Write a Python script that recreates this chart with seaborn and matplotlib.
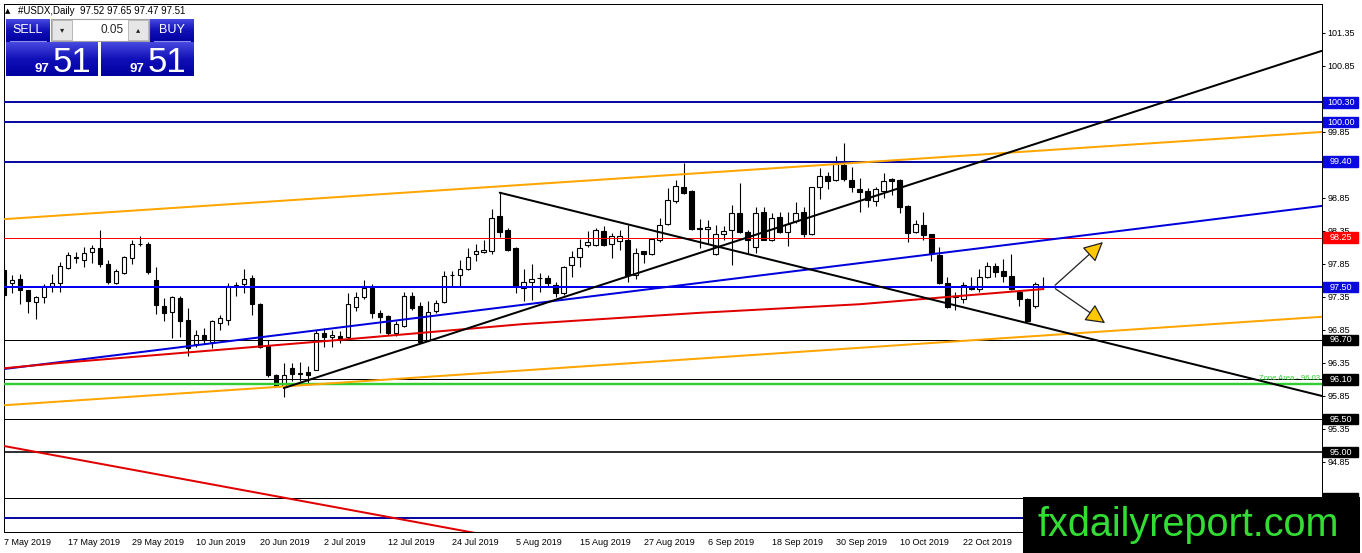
import matplotlib
matplotlib.use("Agg")
import matplotlib.pyplot as plt
import numpy as np
import pandas as pd
import seaborn as sns
from matplotlib.patches import Rectangle
from matplotlib.colors import LinearSegmentedColormap

# USDX daily candles, bar 0 = 7 May 2019
opens = [97.76, 97.56, 97.62, 97.45, 97.28, 97.35, 97.51, 97.56, 97.79, 97.94,
         97.91, 98.03, 98.09, 97.85, 97.56, 97.72, 97.94, 98.16, 98.15, 97.61,
         97.21, 97.12, 97.34, 97.00, 96.64, 96.77, 96.67, 96.96, 97.00, 97.52,
         97.54, 97.63, 97.24, 96.61, 96.17, 96.00, 96.27, 96.19, 96.22, 96.24,
         96.81, 96.74, 96.76, 96.75, 97.20, 97.35, 97.48, 97.11, 97.06, 96.81,
         96.91, 97.36, 97.21, 96.70, 97.13, 97.27, 97.68, 97.68, 97.77, 98.00,
         98.03, 98.05, 98.57, 98.36, 98.09, 97.49, 97.57, 97.64, 97.64, 97.53,
         97.41, 97.84, 97.96, 98.14, 98.14, 98.35, 98.16, 98.20, 98.21, 97.68,
         98.04, 98.00, 98.21, 98.45, 98.80, 99.02, 98.95, 98.40, 98.38, 98.00,
         98.30, 98.37, 98.62, 98.34, 98.10, 98.64, 98.21, 98.56, 98.34, 98.50,
         98.64, 98.30, 99.02, 99.18, 99.12, 99.35, 99.12, 98.99, 98.95, 98.80,
         98.96, 99.13, 99.12, 98.73, 98.34, 98.44, 98.30, 97.99, 97.56, 97.35,
         97.32, 97.51, 97.47, 97.65, 97.82, 97.74, 97.67, 97.43, 97.32, 97.21,
         97.52]
highs = [97.85, 97.68, 97.70, 97.46, 97.36, 97.54, 97.70, 97.88, 98.03, 98.03,
         98.11, 98.14, 98.36, 97.91, 97.78, 97.97, 98.21, 98.27, 98.19, 97.81,
         97.34, 97.36, 97.36, 97.18, 96.85, 96.88, 97.00, 97.08, 97.56, 97.58,
         97.77, 97.68, 97.26, 96.70, 96.19, 96.35, 96.35, 96.37, 96.30, 96.85,
         96.88, 96.85, 96.84, 97.41, 97.43, 97.60, 97.54, 97.15, 97.07, 96.98,
         97.43, 97.42, 97.28, 97.29, 97.30, 97.75, 97.75, 97.91, 98.09, 98.16,
         98.21, 98.68, 98.93, 98.39, 98.11, 97.77, 97.85, 97.72, 97.68, 97.57,
         97.82, 98.05, 98.23, 98.35, 98.39, 98.42, 98.32, 98.36, 98.44, 98.09,
         98.04, 98.25, 98.54, 99.00, 99.12, 99.38, 98.97, 98.53, 98.51, 98.44,
         98.43, 98.74, 99.08, 98.36, 98.72, 98.72, 98.62, 98.64, 98.64, 98.79,
         98.72, 99.02, 99.30, 99.25, 99.48, 99.68, 99.32, 99.16, 99.00, 99.02,
         99.23, 99.15, 99.13, 98.74, 98.52, 98.64, 98.30, 98.10, 97.65, 97.43,
         97.57, 97.66, 97.78, 97.88, 97.87, 97.92, 98.00, 97.45, 97.33, 97.57,
         97.65]
lows = [97.30, 97.41, 97.24, 97.11, 97.02, 97.26, 97.43, 97.43, 97.77, 97.86,
        97.81, 97.87, 97.81, 97.55, 97.55, 97.70, 97.85, 98.12, 97.70, 97.09,
        96.99, 96.73, 96.75, 96.45, 96.59, 96.64, 96.57, 96.85, 96.93, 97.36,
        97.41, 97.08, 96.57, 96.14, 96.00, 95.84, 96.07, 96.07, 96.04, 96.24,
        96.59, 96.59, 96.66, 96.72, 97.13, 97.32, 97.03, 96.80, 96.78, 96.76,
        96.90, 97.16, 96.65, 96.69, 97.11, 97.26, 97.52, 97.52, 97.76, 97.89,
        98.02, 98.00, 98.26, 98.05, 97.41, 97.29, 97.30, 97.43, 97.50, 97.35,
        97.38, 97.66, 97.81, 98.10, 98.12, 98.12, 97.94, 98.06, 97.58, 97.62,
        97.86, 97.98, 98.19, 98.44, 98.77, 98.91, 98.36, 98.09, 98.16, 97.99,
        98.21, 97.83, 98.32, 98.02, 98.02, 98.21, 98.20, 98.32, 98.12, 98.47,
        98.26, 98.29, 98.83, 98.99, 99.10, 99.11, 98.94, 98.64, 98.72, 98.73,
        98.85, 98.90, 98.62, 98.19, 98.32, 98.21, 97.89, 97.55, 97.18, 97.15,
        97.26, 97.46, 97.42, 97.63, 97.66, 97.58, 97.45, 97.21, 96.98, 97.18,
        97.47]
closes = [97.38, 97.61, 97.45, 97.29, 97.35, 97.52, 97.56, 97.82, 97.99, 97.95,
          98.01, 98.09, 97.85, 97.58, 97.74, 97.95, 98.15, 98.15, 97.73, 97.23,
          97.11, 97.35, 96.99, 96.57, 96.77, 96.70, 96.99, 97.03, 97.52, 97.53,
          97.62, 97.24, 96.59, 96.17, 96.00, 96.17, 96.19, 96.19, 96.17, 96.80,
          96.75, 96.77, 96.70, 97.24, 97.35, 97.49, 97.11, 97.05, 96.80, 96.94,
          97.37, 97.19, 96.67, 97.12, 97.26, 97.67, 97.68, 97.77, 97.96, 98.05,
          98.06, 98.54, 98.34, 98.06, 97.51, 97.58, 97.62, 97.64, 97.56, 97.41,
          97.81, 97.96, 98.09, 98.19, 98.36, 98.14, 98.27, 98.27, 97.68, 98.02,
          98.00, 98.23, 98.44, 98.82, 99.03, 98.93, 98.38, 98.38, 98.41, 98.30,
          98.35, 98.62, 98.34, 98.21, 98.62, 98.21, 98.55, 98.34, 98.45, 98.62,
          98.30, 99.01, 99.18, 99.10, 99.36, 99.13, 99.01, 98.94, 98.82, 98.98,
          99.11, 99.11, 98.72, 98.32, 98.45, 98.29, 98.01, 97.56, 97.20, 97.36,
          97.53, 97.47, 97.66, 97.82, 97.73, 97.67, 97.47, 97.32, 96.98, 97.55,
          97.51]

# red moving average curve, sampled along the chart
ma_bars = [0, 7, 22, 43, 65, 87, 107, 130]
ma_values = [96.27, 96.35, 96.50, 96.71, 96.94, 97.11, 97.24, 97.47]

# trendlines as (bars, prices) end points
upper_channel = ([0.09, 164.84], [98.53, 99.85])
lower_channel = ([0.09, 164.84], [95.71, 97.05])
blue_trend = ([0.09, 164.84], [96.26, 98.73])
black_up = ([35, 164.84], [95.97, 101.08])
black_down = ([62, 164.84], [98.93, 95.85])
red_down = ([0.09, 60], [95.09, 93.75])

# horizontal levels
blue_levels = [100.30, 100.00, 99.40, 97.50, 94.00]
black_levels = [96.70, 96.10, 95.50, 95.00, 94.30]
red_level = 98.25
zone_level = 96.03

# price boxes on the scale (the last two sit under the logo, no visible text)
label_prices = [100.30, 100.00, 99.40, 98.25, 97.50, 96.70, 96.10, 95.50, 95.00, 94.30, 94.00]
label_kinds = ["blue", "blue", "blue", "red", "blue", "black", "black", "black", "black", "black", "blue"]
hidden_labels = [94.30, 94.00]

y_ticks = [94.35, 94.85, 95.35, 95.85, 96.35, 96.85, 97.35, 97.85, 98.35, 98.85,
           99.35, 99.85, 100.35, 100.85, 101.35]
covered_ticks = [94.35, 99.35, 100.35]

header = "#USDX,Daily  97.52 97.65 97.47 97.51"
bid_big, bid_small = "51", "97"
lot_size = "0.05"

# signal arrows: start point and two targets
arrow_start = (131.2, 97.50)
arrow_up = (137.7, 98.21)
arrow_down = (138.0, 96.93)

sns.set_style("white")
plt.rcParams["font.family"] = ["Liberation Sans", "DejaVu Sans"]

W, H = 1362, 553
fig = plt.figure(figsize=(W / 100, H / 100), dpi=100)
ax = fig.add_axes([4 / W, 1 - 532 / H, 1318 / W, 528 / H])
ax.set_xlim(0.0875, 164.84)
ax.set_ylim(93.789, 101.789)

navy = "#0a0aa0"
box_blue = "#0a0ae0"
px = 0.72  # one pixel in points

# candles
x = np.arange(len(opens))
o, h, l, c = map(np.array, (opens, highs, lows, closes))
ax.vlines(x, l, h, color="black", lw=0.8, zorder=2)
body_bottom = np.minimum(o, c)
body_height = np.maximum(np.abs(c - o), 0.004)
face = np.where(c >= o, "white", "black")
ax.bar(x, body_height, bottom=body_bottom, width=0.56, color=face,
       edgecolor="black", linewidth=0.8, zorder=2.2)

# horizontal levels
for p in blue_levels:
    col = "#0000f0" if p == 97.50 else navy
    ax.axhline(p, color=col, lw=2 * px, zorder=3)
for p in black_levels:
    ax.axhline(p, color="black", lw=1.6 * px if p == 95.00 else px, zorder=3)
ax.axhline(red_level, color="#ff0000", lw=px, zorder=3)
ax.axhline(zone_level, color="#33cc33", lw=2.4 * px, zorder=3)
ax.text(0.9985, zone_level + 0.025, "Zone Area - 96.03", transform=ax.get_yaxis_transform(),
        ha="right", va="bottom", color="#33cc33", fontsize=5.5, zorder=4)

# trendlines
ax.plot(*upper_channel, color="#ffa500", lw=2 * px, zorder=3)
ax.plot(*lower_channel, color="#ffa500", lw=2 * px, zorder=3)
ax.plot(*blue_trend, color="#0000dd", lw=2 * px, zorder=3)
sns.lineplot(x=ma_bars, y=ma_values, color="#e00000", lw=2 * px, ax=ax, zorder=3.1)
ax.plot(*black_up, color="black", lw=2 * px, zorder=3.2)
ax.plot(*black_down, color="black", lw=2 * px, zorder=3.2)
ax.plot(*red_down, color="#e00000", lw=2 * px, zorder=3)

for tip in (arrow_up, arrow_down):
    ax.annotate("", xy=tip, xytext=arrow_start,
                arrowprops=dict(arrowstyle="-|>,head_length=1.1,head_width=0.55",
                                mutation_scale=11, fc="#ffc800", ec="#202020", lw=0.9))

# axes look
for s in ax.spines.values():
    s.set_color("black")
    s.set_linewidth(px)
ax.yaxis.tick_right()
ax.set_yticks(y_ticks)
ax.set_yticklabels(["" if v in covered_ticks else f"{v:.2f}" for v in y_ticks])
ax.tick_params(axis="y", direction="out", length=2.5, width=px, pad=1.5, labelsize=6.5, colors="black")
dates = pd.bdate_range("2019-05-07", periods=len(opens))
xt = list(range(0, 121, 8))
ax.set_xticks(xt)
ax.set_xticklabels([f"{dates[i].day} {dates[i]:%b %Y}" for i in xt], ha="left")
ax.tick_params(axis="x", direction="out", length=3, width=px, pad=1.5, labelsize=6.5, colors="black")
ax.set_xlabel("")
ax.set_ylabel("")

box_colors = {"blue": box_blue, "red": "#ff0000", "black": "black"}
ytr = ax.get_yaxis_transform()
for p, k in zip(label_prices, label_kinds):
    ax.add_patch(Rectangle((1.0008, p - 0.08), 0.0265, 0.16, transform=ytr,
                           color=box_colors[k], clip_on=False, zorder=6))
    if p not in hidden_labels:
        ax.text(1.0141, p, f"{p:.2f}", transform=ytr, ha="center", va="center",
                color="white", fontsize=6.5, clip_on=False, zorder=7)

# overlay in pixel coords for the trade panel and the logo
ov = fig.add_axes([0, 0, 1, 1], zorder=10)
ov.set_xlim(0, W)
ov.set_ylim(H, 0)
ov.axis("off")
ov.patch.set_alpha(0)

ov.text(5, 11, "\u25b2", fontsize=5, va="center", color="black", family="DejaVu Sans")
ov.text(18, 11, header, fontsize=7, va="center", color="black")

btn = LinearSegmentedColormap.from_list("btn", ["#4848e0", "#1010b8", "#0000a0"])
grad = np.linspace(0, 1, 64).reshape(-1, 1)
for (x0, y0, x1, y1) in [(6, 19, 50, 42), (150, 19, 194, 42), (6, 42, 98, 76), (101, 42, 194, 76)]:
    ov.imshow(grad, cmap=btn, extent=(x0, x1, y1, y0), aspect="auto", zorder=1)
for (x0, x1) in [(10, 46), (154, 190)]:
    ov.plot([x0, x1], [40.5, 40.5], color="#8c8cf0", lw=0.8)
ov.text(28, 30, "SELL", color="white", fontsize=9, ha="center", va="center")
ov.text(172, 30, "BUY", color="white", fontsize=9, ha="center", va="center")

ov.add_patch(Rectangle((51, 19), 98, 22, fc="white", ec="#a0a0a0", lw=0.8, zorder=2))
ov.add_patch(Rectangle((52, 20), 20, 20, fc="#e6e6e6", ec="#b0b0b0", lw=0.6, zorder=3))
ov.add_patch(Rectangle((128, 20), 20, 20, fc="#e6e6e6", ec="#b0b0b0", lw=0.6, zorder=3))
ov.text(62, 30, "\u25be", fontsize=6, ha="center", va="center", family="DejaVu Sans", zorder=4)
ov.text(138, 30, "\u25b4", fontsize=6, ha="center", va="center", family="DejaVu Sans", zorder=4)
ov.text(124, 30, lot_size, fontsize=8.5, ha="right", va="center", zorder=4)

for xs, xb in [(49, 53), (144, 148)]:
    ov.text(xs, 72, bid_small, color="white", fontsize=9.5, fontweight="bold",
            ha="right", va="baseline", zorder=4)
    ov.text(xb, 72, bid_big, color="white", fontsize=25, ha="left", va="baseline", zorder=4)

ov.add_patch(Rectangle((1023, 497), 337, 60, fc="black", ec="none", zorder=5))
ov.text(1188, 536, "fxdailyreport.com", color="#33dd33", fontsize=28.5,
        ha="center", va="baseline", zorder=6)

fig.savefig("out.png", dpi=100)
